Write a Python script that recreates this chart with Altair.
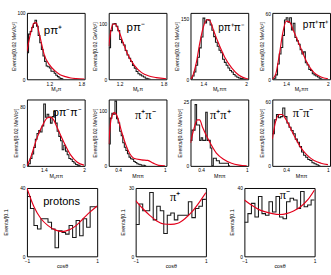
import altair as alt
import pandas as pd

# ---------------- data ----------------
# Row 1
P1_START, P1_STEP = 0.78, 0.03
P1_COUNTS = [40, 68, 72, 78, 84, 89, 80, 66, 55, 45, 35, 27, 20, 19, 17, 12, 12, 9, 6, 4, 2, 1, 0]
P1_CX = [0.78, 0.85, 0.92, 0.96, 1.0, 1.05, 1.1, 1.2, 1.3, 1.4, 1.5, 1.6, 1.7, 1.86]
P1_CY = [42, 70, 85, 85, 72, 55, 38, 22, 13, 7, 4, 2, 1, 0.3]

P2_START, P2_STEP = 1.05, 0.025
P2_COUNTS = [57, 88, 100, 101, 96, 88, 72, 66, 62, 52, 44, 38, 32, 25, 20, 14, 10, 8, 6, 4, 2, 1, 0]
P2_CX = [1.05, 1.08, 1.11, 1.14, 1.18, 1.25, 1.3, 1.4, 1.5, 1.6, 1.7, 1.84]
P2_CY = [60, 88, 100, 100, 90, 65, 48, 25, 12, 6, 3, 1]

P3_START, P3_STEP = 1.22, 0.025
P3_COUNTS = [0, 8, 18, 35, 55, 78, 105, 152, 140, 148, 147, 135, 122, 106, 92, 82, 72, 66, 50, 42,
             35, 28, 22, 18, 12, 8, 5, 3, 2, 1, 0]
P3_CX = [1.22, 1.25, 1.3, 1.35, 1.4, 1.45, 1.48, 1.55, 1.6, 1.7, 1.8, 1.9, 2.0, 2.03]
P3_CY = [0, 8, 40, 90, 130, 148, 148, 118, 95, 55, 28, 10, 2, 1]

P4_START, P4_STEP = 1.2, 0.025
P4_COUNTS = [0, 1, 4, 14, 23, 29, 40, 54, 56, 52, 56, 45, 51, 38, 35, 32, 27, 23, 25, 15, 13, 9, 8, 5,
             4, 3, 2, 1, 0]
P4_CX = [1.2, 1.25, 1.3, 1.35, 1.4, 1.45, 1.5, 1.6, 1.7, 1.8, 1.9, 2.0]
P4_CY = [0, 5, 22, 42, 53, 52, 45, 30, 15, 6, 2, 0.5]

# Row 2
P5_START, P5_STEP = 1.15, 0.025
P5_COUNTS = [0, 3, 10, 16, 25, 36, 44, 48, 46, 54, 84, 66, 70, 66, 58, 67, 74, 58, 47, 40, 34, 22, 28,
             20, 15, 10, 9, 6, 4, 2, 1, 0]
P5_CX = [1.15, 1.2, 1.3, 1.4, 1.45, 1.5, 1.55, 1.6, 1.7, 1.8, 1.9, 2.0]
P5_CY = [0, 10, 38, 58, 65, 66, 62, 52, 32, 15, 5, 1]

P6_START, P6_STEP = 0.28, 0.02
P6_COUNTS = [40, 87, 96, 94, 118, 86, 78, 63, 55, 42, 34, 28, 22, 16, 13, 12, 8, 6, 4, 3, 2, 1, 1, 0]
P6_CX = [0.28, 0.31, 0.35, 0.38, 0.45, 0.5, 0.55, 0.6, 0.7, 0.78, 0.85, 0.92, 1.0]
P6_CY = [40, 85, 97, 93, 60, 38, 22, 14, 11, 10, 5, 1, 0]

P7_START, P7_STEP = 0.26, 0.02
P7_COUNTS = [10, 14, 14, 24, 16, 16, 10, 11, 10, 10, 21, 10, 10, 7, 0, 3, 3, 2, 2, 1, 1, 1, 1, 1, 1, 0]
P7_CX = [0.26, 0.3, 0.35, 0.38, 0.42, 0.5, 0.6, 0.7, 0.8, 0.9, 1.0]
P7_CY = [9, 14, 18, 18, 15, 10, 5, 2.5, 1, 0.3, 0]

P8_START, P8_STEP = 0.2, 0.03
P8_COUNTS = [30, 43, 48, 45, 46, 54, 46, 40, 36, 33, 30, 25, 22, 18, 13, 10, 8, 6, 5, 3, 2, 1, 0]
P8_CX = [0.2, 0.25, 0.3, 0.34, 0.4, 0.5, 0.6, 0.7, 0.8, 0.9, 1.0]
P8_CY = [25, 42, 48, 48, 43, 30, 18, 10, 5, 2.5, 1.2]

# Row 3 (cos theta, 20 bins of 0.1 from -1)
COS_START, COS_STEP = -1.0, 0.1
P9_COUNTS = [35, 28, 18, 16, 22, 22, 20, 16, 5, 15, 14, 13, 18, 11, 21, 12, 22, 17, 29, 29]
P9_CX = [-1.0, -0.8, -0.6, -0.4, -0.2, 0.0, 0.2, 0.4, 0.6, 0.8, 1.0]
P9_CY = [40, 29, 22, 18, 15.5, 14.5, 15.5, 18, 22, 26, 29.5]

P10_COUNTS = [14, 23, 20, 20, 28, 16, 22, 20, 10, 18, 19, 16, 18, 18, 18, 24, 17, 21, 22, 25]
P10_CX = [-1.0, -0.8, -0.6, -0.4, -0.2, 0.0, 0.2, 0.4, 0.6, 0.8, 1.0]
P10_CY = [24.5, 21, 18, 15.5, 14.2, 14, 14.5, 16.5, 19.5, 23.5, 28]

P11_COUNTS = [20, 25, 31, 23, 35, 25, 24, 32, 26, 35, 23, 22, 32, 34, 33, 28, 38, 29, 30, 33]
P11_CX = [-1.0, -0.8, -0.6, -0.4, -0.2, 0.0, 0.2, 0.4, 0.6, 0.8, 1.0]
P11_CY = [33, 30, 27.5, 26, 25, 24.5, 25, 26.5, 29, 33, 39]

MEV = "Events/[0.02 MeV/c²]"
GEV = "Events/[0.02 GeV/c²]"
COS_Y = "Events/[0.1"

HIST_COLOR = "#1a1a1a"
FIT_COLOR = "#e3001b"
SANS = "Liberation Sans"
SERIF = "Liberation Serif"
FMT = ".3~g"


def hist_frame(start, step, counts):
    xs = [start + i * step for i in range(len(counts) + 1)]
    ys = list(counts) + [counts[-1]]
    return pd.DataFrame({"x": xs, "y": ys})


def panel(hist, cx, cy, xdom, ydom, xticks, yticks, xtitle, ytitle, label, lx, ly,
          lfont, lsize, w, h, ytpad=1.0):
    xs = alt.Scale(domain=xdom, nice=False, zero=False)
    ys = alt.Scale(domain=ydom, nice=False, zero=False)
    xax = alt.Axis(values=xticks, format=FMT, title=xtitle, labelFlush=False,
                   labelOverlap=False, titlePadding=1)
    yax = alt.Axis(values=yticks, format=FMT, title=ytitle, labelFlush=False,
                   labelOverlap=False, titlePadding=ytpad)
    h_layer = alt.Chart(hist).mark_line(
        interpolate="step-after", color=HIST_COLOR, strokeWidth=1.1, clip=True
    ).encode(x=alt.X("x:Q", scale=xs, axis=xax), y=alt.Y("y:Q", scale=ys, axis=yax))
    c_layer = alt.Chart(pd.DataFrame({"x": cx, "y": cy})).mark_line(
        interpolate="monotone", color=FIT_COLOR, strokeWidth=1.2, clip=True
    ).encode(x=alt.X("x:Q", scale=xs), y=alt.Y("y:Q", scale=ys))
    t_layer = alt.Chart(pd.DataFrame({"t": [label]})).mark_text(
        font=lfont, fontSize=lsize, color="black", align="center", baseline="middle"
    ).encode(text="t:N", x=alt.value(lx), y=alt.value(ly))
    return alt.layer(h_layer, c_layer, t_layer).properties(width=w, height=h)


W1, H1 = 60, 69
W3, H3 = 73, 71
MT = [1.2, 1.4, 1.6, 1.8]
MT2 = [1.4, 1.6, 1.8, 2]
PT = [0.4, 0.6, 0.8, 1]
CT = [-1, -0.5, 0, 0.5, 1]

p1 = panel(hist_frame(P1_START, P1_STEP, P1_COUNTS), P1_CX, P1_CY, [0.78, 1.86], [0, 100],
           MT, [0, 20, 40, 60, 80, 100], "Mₚπ", MEV, "pπ⁺", 27, 18, SANS, 12, W1, H1)
p2 = panel(hist_frame(P2_START, P2_STEP, P2_COUNTS), P2_CX, P2_CY, [1.05, 1.84], [0, 120],
           MT, [0, 50, 100], "Mₚπ", GEV, "pπ⁻", 28, 15, SANS, 12, W1, H1)
p3 = panel(hist_frame(P3_START, P3_STEP, P3_COUNTS), P3_CX, P3_CY, [1.22, 2.03], [0, 165],
           MT2, [0, 50, 100, 150], "Mₚππ", MEV, "pπ⁺π⁻", 42, 16, SANS, 10.5, W1, H1)
p4 = panel(hist_frame(P4_START, P4_STEP, P4_COUNTS), P4_CX, P4_CY, [1.2, 2.03], [0, 60.5],
           MT2, [0, 20, 40, 60], "Mₚππ", MEV, "pπ⁺π⁺", 45, 13, SANS, 10.5, W1, H1)

p5 = panel(hist_frame(P5_START, P5_STEP, P5_COUNTS), P5_CX, P5_CY, [1.15, 2.01], [0, 90],
           MT2, [0, 20, 40, 60, 80], "Mₚππ", MEV, "pπ⁻π⁻", 42, 14, SANS, 11, W1, H1)
p6 = panel(hist_frame(P6_START, P6_STEP, P6_COUNTS), P6_CX, P6_CY, [0.28, 1.02], [0, 121],
           PT, [0, 50, 100], "Mππ", MEV, "π⁺π⁻", 38, 16, SERIF, 13, W1, H1)
p7 = panel(hist_frame(P7_START, P7_STEP, P7_COUNTS), P7_CX, P7_CY, [0.26, 1.02], [0, 26],
           PT, [0, 5, 10, 15, 20, 25], "Mππ", MEV, "π⁺π⁺", 31, 16, SERIF, 13, W1, H1)
p8 = panel(hist_frame(P8_START, P8_STEP, P8_COUNTS), P8_CX, P8_CY, [0.2, 1.03], [0, 62],
           PT, [0, 20, 40, 60], "Mππ", MEV, "π⁻π⁻", 32, 14, SERIF, 13, W1, H1)

p9 = panel(hist_frame(COS_START, COS_STEP, P9_COUNTS), P9_CX, P9_CY, [-1, 1], [0, 40],
           CT, [0, 10, 20, 30, 40], "cosθ", COS_Y, "protons", 36, 15, SANS, 11.5, W3, H3, ytpad=12)
p10 = panel(hist_frame(COS_START, COS_STEP, P10_COUNTS), P10_CX, P10_CY, [-1, 1], [0, 30],
            CT, [0, 10, 20, 30], "cosθ", COS_Y, "π⁺", 41, 10, SERIF, 13, W3, H3, ytpad=3)
p11 = panel(hist_frame(COS_START, COS_STEP, P11_COUNTS), P11_CX, P11_CY, [-1, 1], [0, 40],
            CT, [0, 10, 20, 30, 40], "cosθ", COS_Y, "π⁻", 42, 7, SERIF, 13, W3, H3, ytpad=3)

row1 = alt.hconcat(p1, p2, p3, p4, spacing=25, bounds="flush")
row2 = alt.hconcat(p5, p6, p7, p8, spacing=25, bounds="flush")
row3 = alt.hconcat(p9, p10, p11, spacing=21)

chart = alt.vconcat(row1, row2, row3, spacing=6).properties(
    padding={"left": 2, "top": 5, "right": 0, "bottom": 0},
    background="white",
).configure_view(stroke="black", strokeWidth=1).configure_axis(
    grid=False, domain=False, ticks=False,
    labelFont=SANS, titleFont=SANS, labelFontSize=5, titleFontSize=5.5,
    labelColor="black", titleColor="black", labelPadding=2, titleFontWeight="normal",
)

chart.save("out.html", embed_options={"renderer": "svg", "actions": False})
